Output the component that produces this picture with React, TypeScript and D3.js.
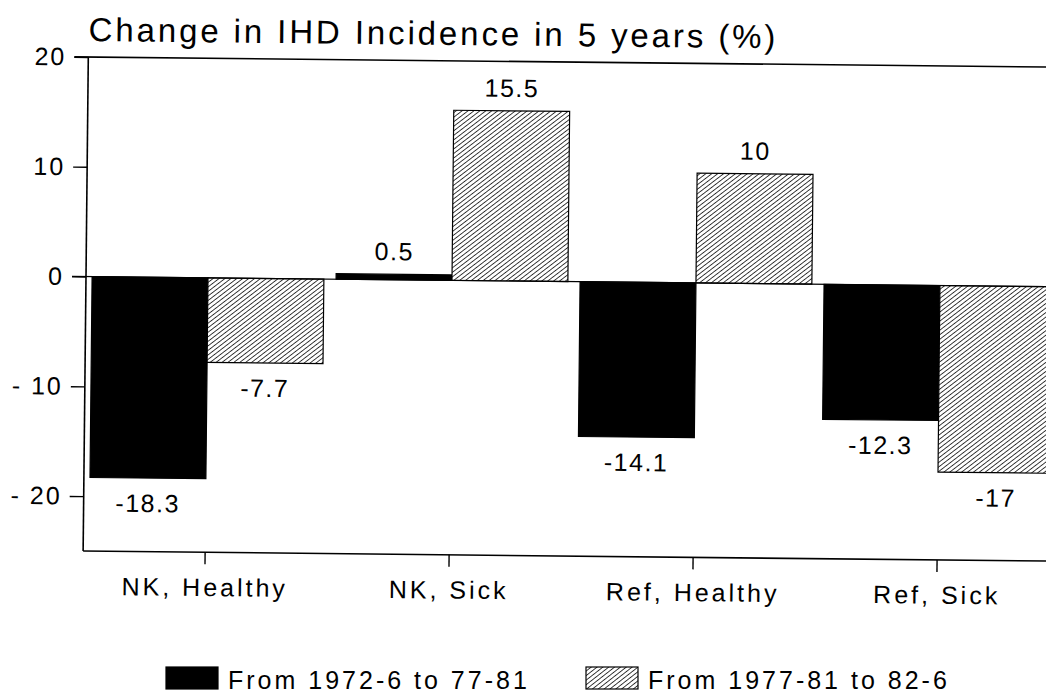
import React, { useEffect, useRef } from 'react';
import * as d3 from 'd3';

const WIDTH = 1046;
const HEIGHT = 698;

const categories = ['NK, Healthy', 'NK, Sick', 'Ref, Healthy', 'Ref, Sick'];
const series1 = [-18.3, 0.5, -14.1, -12.3];
const series2 = [-7.7, 15.5, 10, -17];
const series1Labels = ['-18.3', '0.5', '-14.1', '-12.3'];
const series2Labels = ['-7.7', '15.5', '10', '-17'];
const seriesNames = ['From 1972-6 to 77-81', 'From 1977-81 to 82-6'];
const yTicks = [20, 10, 0, -10, -20];

const FONT = "'Liberation Sans', Arial, Helvetica, sans-serif";

export default function App() {
  const ref = useRef<SVGSVGElement | null>(null);

  useEffect(() => {
    const svg = d3.select(ref.current);
    svg.selectAll('*').remove();

    const left = 86;
    const right = 1062;
    const y = d3.scaleLinear().domain([-25, 20]).range([551, 57]);
    const x0 = d3.scaleBand<string>().domain(categories).range([left, right]).paddingInner(0.05).paddingOuter(0.025);
    const x1 = d3.scaleBand<string>().domain(['a', 'b']).range([0, x0.bandwidth()]);

    const defs = svg.append('defs');
    const pat = defs.append('pattern')
      .attr('id', 'hatch')
      .attr('patternUnits', 'userSpaceOnUse')
      .attr('width', 3.6)
      .attr('height', 3.6)
      .attr('patternTransform', 'rotate(52)');
    pat.append('rect').attr('width', 3.6).attr('height', 3.6).attr('fill', '#fff');
    pat.append('line').attr('x1', 0).attr('y1', 0).attr('x2', 0).attr('y2', 3.6)
      .attr('stroke', '#000').attr('stroke-width', 1.5);

    svg.append('rect').attr('width', WIDTH).attr('height', HEIGHT).attr('fill', '#fff');

    // slight scan skew
    const g = svg.append('g').attr('transform', `rotate(0.6, ${left}, ${y(0)})`);

    g.append('text')
      .attr('x', 86).attr('y', 41)
      .attr('font-family', FONT).attr('font-size', 33).attr('letter-spacing', 2.9)
      .text('Change in IHD Incidence in 5 years (%)');

    // frame
    g.append('line').attr('x1', 72).attr('x2', WIDTH + 20).attr('y1', y(20)).attr('y2', y(20))
      .attr('stroke', '#000').attr('stroke-width', 1.6);
    g.append('line').attr('x1', left).attr('x2', WIDTH + 20).attr('y1', y(-25)).attr('y2', y(-25))
      .attr('stroke', '#000').attr('stroke-width', 1.6);
    g.append('line').attr('x1', left).attr('x2', left).attr('y1', y(20)).attr('y2', y(-25))
      .attr('stroke', '#000').attr('stroke-width', 1.6);

    // bars
    const drawBars = (vals: number[], key: string, fill: string) => {
      g.selectAll(`.bar-${key}`)
        .data(vals)
        .enter()
        .append('rect')
        .attr('class', `bar-${key}`)
        .attr('x', (_d, i) => (x0(categories[i]) as number) + (x1(key) as number))
        .attr('width', x1.bandwidth())
        .attr('y', (d) => y(Math.max(0, d)))
        .attr('height', (d) => Math.abs(y(d) - y(0)))
        .attr('fill', fill)
        .attr('stroke', '#000')
        .attr('stroke-width', 1.2);
    };
    drawBars(series1, 'a', '#000');
    drawBars(series2, 'b', 'url(#hatch)');

    // zero line
    g.append('line').attr('x1', 72).attr('x2', WIDTH + 20).attr('y1', y(0)).attr('y2', y(0))
      .attr('stroke', '#000').attr('stroke-width', 1.2);

    // value labels
    const drawLabels = (vals: number[], labels: string[], key: string) => {
      g.selectAll(`.lbl-${key}`)
        .data(vals)
        .enter()
        .append('text')
        .attr('class', `lbl-${key}`)
        .attr('x', (_d, i) => (x0(categories[i]) as number) + (x1(key) as number) + x1.bandwidth() / 2)
        .attr('y', (d) => (d >= 0 ? y(d) - 14 : y(d) + 34))
        .attr('text-anchor', 'middle')
        .attr('font-family', FONT).attr('font-size', 25).attr('letter-spacing', 1.5)
        .text((_d, i) => labels[i]);
    };
    drawLabels(series1, series1Labels, 'a');
    drawLabels(series2, series2Labels, 'b');

    // y axis
    const yAxis = g.append('g')
      .attr('transform', `translate(${left},0)`)
      .call(d3.axisLeft(y).tickValues(yTicks).tickSize(14).tickPadding(8)
        .tickFormat((d) => { const v = d as number; return v < 0 ? `- ${Math.abs(v)}` : `${v}`; }));
    yAxis.select('.domain').remove();
    yAxis.selectAll('line').attr('stroke-width', 1.4);
    yAxis.selectAll('text').attr('font-family', FONT).attr('font-size', 25)
      .attr('letter-spacing', 2).attr('fill', '#000');

    // x axis
    const xAxis = g.append('g')
      .attr('transform', `translate(0,${y(-25)})`)
      .call(d3.axisBottom(x0).tickSize(12).tickPadding(14));
    xAxis.select('.domain').remove();
    xAxis.selectAll('line').attr('stroke-width', 1.4);
    xAxis.selectAll('text').attr('font-family', FONT).attr('font-size', 25)
      .attr('letter-spacing', 3).attr('fill', '#000');

    // legend
    const legendX = [166, 586];
    seriesNames.forEach((name, i) => {
      svg.append('rect')
        .attr('x', legendX[i]).attr('y', 667).attr('width', 52).attr('height', 22)
        .attr('fill', i === 0 ? '#000' : 'url(#hatch)')
        .attr('stroke', '#000').attr('stroke-width', 1.2);
      svg.append('text')
        .attr('x', legendX[i] + 62).attr('y', 689)
        .attr('font-family', FONT).attr('font-size', 25).attr('letter-spacing', 3)
        .text(name);
    });
  }, []);

  return (
    <svg ref={ref} width={WIDTH} height={HEIGHT} style={{ display: 'block', position: 'absolute', left: 0, top: 0 }} />
  );
}
